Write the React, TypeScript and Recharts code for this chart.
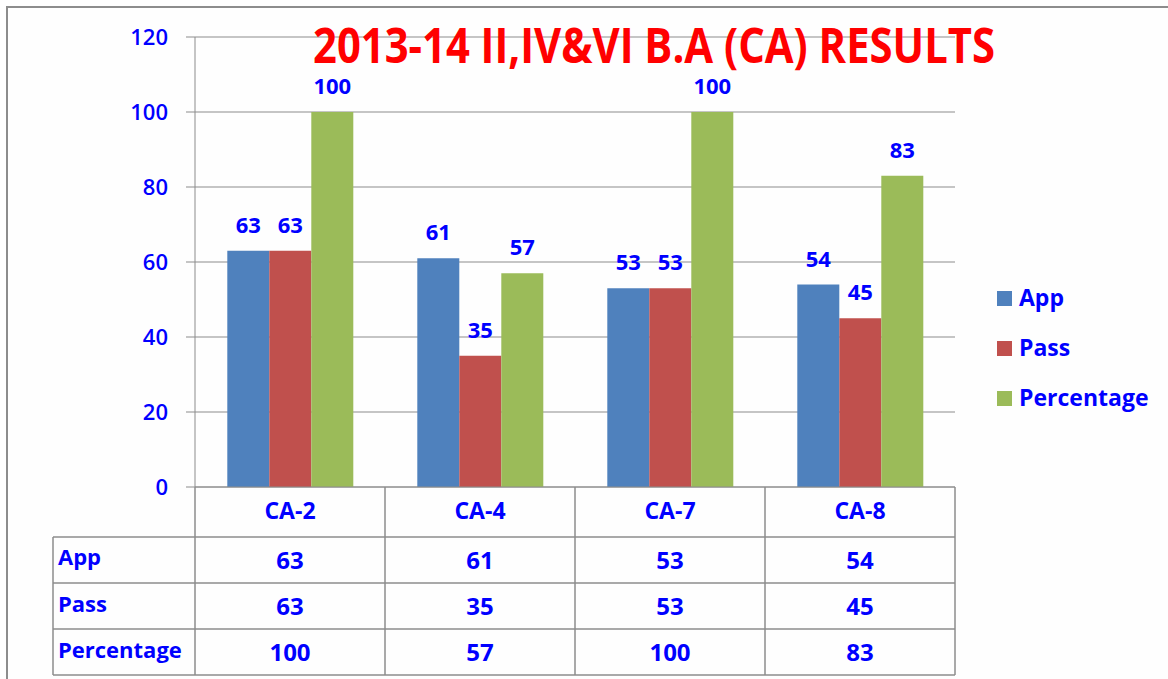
import React from 'react';
import { BarChart, Bar, XAxis, YAxis, CartesianGrid, LabelList } from 'recharts';

const categories = ['CA-2', 'CA-4', 'CA-7', 'CA-8'];
const appValues = [63, 61, 53, 54];
const passValues = [63, 35, 53, 45];
const percentageValues = [100, 57, 100, 83];
const yTicks = [0, 20, 40, 60, 80, 100, 120];
const seriesNames = ['App', 'Pass', 'Percentage'];
const seriesColors = ['#4F81BD', '#C0504D', '#9BBB59'];
const seriesValues = [appValues, passValues, percentageValues];
const chartTitle = '2013-14 II,IV&VI B.A (CA) RESULTS';

const data = categories.map((c, i) => ({
  name: c,
  App: appValues[i],
  Pass: passValues[i],
  Percentage: percentageValues[i],
}));

const W = 1168;
const H = 679;
const PLOT_LEFT = 195;
const PLOT_RIGHT = 955;
const AXIS_Y = 487;
const TABLE_LEFT = 53;
const ROW_LINES = [537, 583, 629, 675];
const ROW_LABEL_BASE = [565, 612, 658];
const ROW_VALUE_BASE = [569, 615, 661];
const FONT = '"Open Sans", "DejaVu Sans", sans-serif';
const BLUE = '#0000ff';
const GRID = '#8c8c8c';

export default function App() {
  const colW = (PLOT_RIGHT - PLOT_LEFT) / categories.length;
  return (
    <div style={{ position: 'absolute', left: 0, top: 0, width: W, height: H, background: '#fefefe', fontFamily: FONT }}>
      <BarChart
        width={W}
        height={H}
        data={data}
        margin={{ top: 37, right: W - PLOT_RIGHT, left: PLOT_LEFT - 80, bottom: H - AXIS_Y - 50 }}
        barCategoryGap="17%"
        barGap={0}
      >
        <CartesianGrid vertical={false} stroke={GRID} strokeWidth={1} />
        <YAxis
          width={80}
          domain={[0, 120]}
          ticks={yTicks}
          interval={0}
          tickSize={9}
          tickMargin={18}
          axisLine={{ stroke: GRID }}
          tickLine={{ stroke: GRID }}
          tick={{ fill: BLUE, fontSize: 22, fontWeight: 600, fontFamily: FONT }}
        />
        <XAxis
          dataKey="name"
          height={50}
          tickLine={false}
          tickSize={0}
          tickMargin={16}
          axisLine={{ stroke: GRID }}
          tick={{ fill: BLUE, fontSize: 23, fontWeight: 700, fontFamily: FONT }}
        />
        {seriesNames.map((s, i) => (
          <Bar key={s} dataKey={s} fill={seriesColors[i]} isAnimationActive={false}>
            <LabelList
              dataKey={s}
              position="top"
              offset={18}
              fill={BLUE}
              style={{ fontSize: 22, fontWeight: 700, fontFamily: FONT }}
            />
          </Bar>
        ))}
      </BarChart>
      <svg width={W} height={H} style={{ position: 'absolute', left: 0, top: 0, pointerEvents: 'none' }}>
        <line x1={6} y1={7} x2={W} y2={7} stroke={GRID} strokeWidth={2} />
        <line x1={7} y1={6} x2={7} y2={H} stroke={GRID} strokeWidth={2} />
        <text
          x={313}
          y={63}
          textLength={682}
          lengthAdjust="spacingAndGlyphs"
          fontSize={48}
          fontWeight={700}
          fill="#ff0000"
          fontFamily={FONT}
        >
          {chartTitle}
        </text>
        {ROW_LINES.map((y) => (
          <line key={y} x1={TABLE_LEFT} y1={y} x2={PLOT_RIGHT} y2={y} stroke={GRID} strokeWidth={1.5} />
        ))}
        <line x1={TABLE_LEFT} y1={ROW_LINES[0]} x2={TABLE_LEFT} y2={ROW_LINES[3]} stroke={GRID} strokeWidth={1.5} />
        {Array.from({ length: categories.length + 1 }).map((_, i) => (
          <line
            key={i}
            x1={PLOT_LEFT + i * colW}
            y1={AXIS_Y}
            x2={PLOT_LEFT + i * colW}
            y2={ROW_LINES[3]}
            stroke={GRID}
            strokeWidth={1.5}
          />
        ))}
        {seriesNames.map((s, r) => (
          <g key={s}>
            <text x={58} y={ROW_LABEL_BASE[r]} fontSize={22} fontWeight={700} fill={BLUE} fontFamily={FONT}>
              {s}
            </text>
            {seriesValues[r].map((v, c) => (
              <text
                key={c}
                x={PLOT_LEFT + (c + 0.5) * colW}
                y={ROW_VALUE_BASE[r]}
                textAnchor="middle"
                fontSize={24}
                fontWeight={700}
                fill={BLUE}
                fontFamily={FONT}
              >
                {v}
              </text>
            ))}
          </g>
        ))}
        {seriesNames.map((s, i) => (
          <g key={s}>
            <rect x={997} y={291 + i * 50} width={15} height={15} fill={seriesColors[i]} />
            <text x={1019} y={306 + i * 50} fontSize={23} fontWeight={700} fill={BLUE} fontFamily={FONT}>
              {s}
            </text>
          </g>
        ))}
      </svg>
    </div>
  );
}
